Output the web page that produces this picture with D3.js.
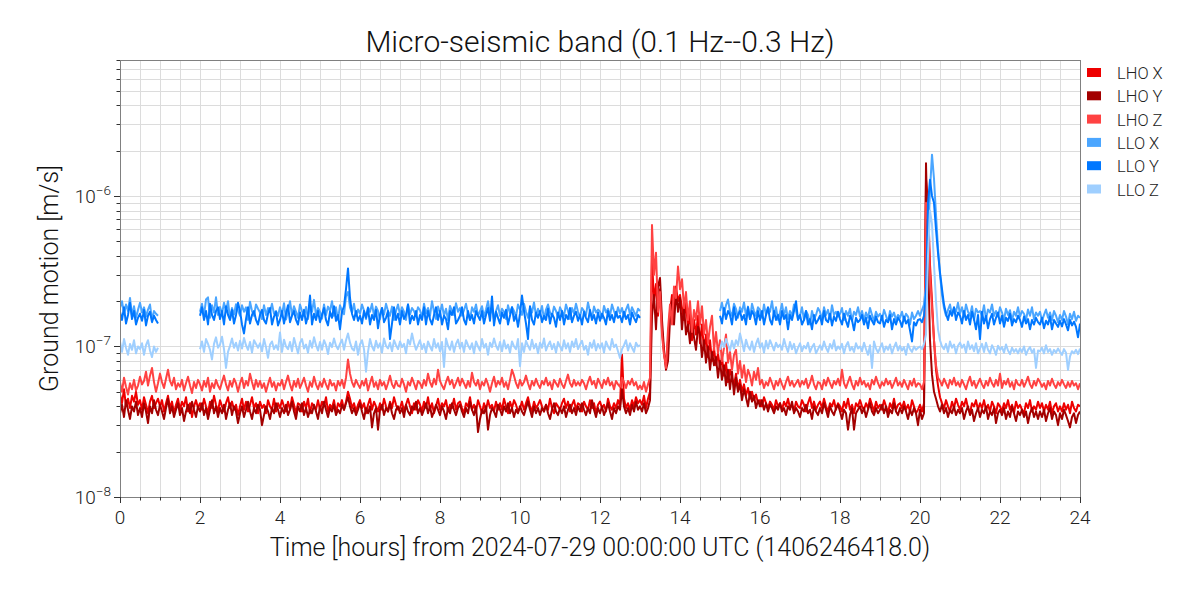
<!DOCTYPE html>
<html>
<head>
<meta charset="utf-8">
<script src="https://cdn.jsdelivr.net/npm/d3@7"></script>
<style>
  html, body { margin: 0; padding: 0; background: #fff; }
  svg { display: block; font-family: Roboto, "DejaVu Sans", sans-serif; }
</style>
</head>
<body>
<svg id="chart" width="1200" height="600"></svg>
<script>
// ---- data: values in units of 1e-9 m/s, one sample every 0.05 hours from 0 to 24 ----
const title = "Micro-seismic band (0.1 Hz--0.3 Hz)";
const xLabel = "Time [hours] from 2024-07-29 00:00:00 UTC (1406246418.0)";
const yLabel = "Ground motion [m/s]";
const seriesNames = ["LHO X", "LHO Y", "LHO Z", "LLO X", "LLO Y", "LLO Z"];
const seriesColors = ["#ee0000", "#a30000", "#ff4242", "#4ba6ff", "#0077ff", "#9fcfff"];
const xTickValues = [0, 2, 4, 6, 8, 10, 12, 14, 16, 18, 20, 22, 24];
const yTickExponents = [-8, -7, -6];
const hourStart = 0, hourStep = 0.05, unit = 1e-9;
const N = null;

const lhoX = [
48,42,52,40,45,39,47,43,50,41,
44,38,46,41,36,43,47,39,42,45,
40,44,37,42,47,39,43,36,41,45,
38,43,40,46,37,42,34,40,44,39,
42,38,45,40,36,43,39,47,41,37,
44,40,37,42,46,39,43,38,41,35,
40,45,38,43,37,41,46,39,42,36,
43,39,41,36,44,40,38,45,37,42,
39,44,40,37,43,38,46,41,36,42,
41,37,43,39,45,36,42,40,38,44,
38,43,40,46,37,41,39,44,36,42,
40,44,38,43,50,45,39,42,37,41,
44,39,42,36,41,45,38,43,40,37,
42,38,45,40,37,43,39,46,41,38,
39,43,37,41,45,40,36,42,38,44,
41,37,43,39,46,38,42,36,40,45,
38,42,40,44,37,41,39,45,38,42,
43,39,36,42,40,46,38,41,37,44,
40,36,42,38,44,39,41,37,43,38,
42,38,45,40,36,43,39,44,41,37,
39,43,38,42,46,40,37,43,39,41,
44,40,37,41,38,45,39,36,42,40,
38,42,45,39,43,37,41,44,38,42,
41,37,43,40,38,44,39,42,36,41,
43,39,41,37,45,40,38,42,39,44,
40,88,45,39,42,38,44,40,46,42,
44,41,47,39,45,50,380,200,260,160,
240,130,90,75,110,170,220,160,250,200,
220,180,150,200,130,165,110,150,120,160,
105,140,95,120,85,110,80,98,75,90,
72,85,64,78,58,70,62,55,66,52,
60,50,56,47,53,45,50,44,48,42,
44,40,46,42,39,43,41,38,44,40,
42,38,43,40,45,39,41,37,43,40,
39,44,41,37,42,46,39,43,38,41,
43,39,45,40,37,42,40,44,38,42,
40,37,43,39,45,38,41,36,42,40,
44,40,38,42,39,45,41,37,43,39,
41,38,44,40,36,42,39,45,38,41,
42,39,43,38,41,37,44,40,36,38,
41,37,42,1300,900,350,200,110,70,55,
46,42,39,44,40,37,43,39,45,41,
38,43,40,45,39,36,42,40,44,38,
42,39,44,38,41,37,43,40,36,42,
40,37,42,39,44,38,41,36,43,39,
41,38,36,42,39,44,37,40,38,43,
39,42,37,41,38,43,36,40,42,37,
40,37,42,38,41,36,43,39,37,41,
40];

const lhoY = [
36,41,34,44,38,33,40,37,43,35,
39,34,42,37,31,40,36,44,38,35,
41,37,33,39,45,36,40,34,38,42,
35,39,32,37,41,36,43,38,34,40,
37,42,35,39,33,38,44,36,40,34,
39,36,41,33,38,42,35,40,37,31,
36,40,34,38,43,37,33,39,36,41,
38,30,35,40,37,33,39,36,42,38,
34,39,36,41,35,38,43,37,33,40,
37,42,35,39,34,38,36,41,37,33,
40,36,43,38,34,39,37,41,35,38,
36,41,38,42,46,40,36,39,35,38,
42,37,33,39,36,40,29,36,39,28,
38,41,35,39,37,42,36,33,38,40,
36,39,34,41,37,35,40,38,43,36,
39,35,38,42,36,40,34,37,41,38,
35,40,37,33,39,36,42,38,35,39,
41,37,34,39,36,43,38,35,40,27,
33,38,36,40,28,35,39,37,34,41,
38,35,40,37,42,36,39,34,38,36,
40,37,35,39,43,38,34,40,36,39,
35,39,37,41,36,33,38,42,37,35,
39,36,40,34,38,41,36,39,35,40,
37,42,38,35,39,36,44,38,34,39,
36,40,35,38,42,37,33,39,36,40,
38,52,40,36,39,35,41,37,43,38,
40,37,42,36,39,44,160,220,130,250,
285,150,95,70,80,150,200,140,230,170,
210,130,185,120,140,105,150,115,95,135,
120,85,110,78,100,70,92,75,85,62,
80,60,75,55,70,52,68,48,62,50,
56,44,52,46,40,50,43,47,39,44,
40,44,38,42,37,41,39,36,40,38,
42,37,39,35,40,38,43,36,39,37,
34,39,37,41,36,38,33,40,37,35,
39,36,42,38,34,40,37,35,39,41,
37,33,38,36,28,35,39,28,36,38,
40,36,39,34,38,42,37,35,39,36,
38,41,36,40,34,38,36,42,37,35,
39,36,40,37,33,38,35,39,36,30,
38,33,36,1650,400,110,65,50,45,40,
37,41,36,39,34,38,36,40,35,38,
36,39,33,37,40,35,38,32,36,39,
34,38,36,40,33,37,35,39,31,36,
38,35,39,33,37,34,40,36,32,37,
35,38,34,37,31,36,39,34,37,33,
37,34,38,32,36,39,33,37,35,30,
36,33,38,35,32,29,34,36,31,35,
37];

const lhoZ = [
58,50,62,54,48,57,52,60,51,55,
63,56,59,68,55,64,72,58,50,57,
66,58,53,61,70,59,55,62,52,57,
54,60,51,57,63,55,49,58,53,60,
56,51,59,54,62,50,57,53,60,55,
52,58,64,56,51,59,54,61,57,50,
57,62,53,59,55,66,58,52,60,54,
59,53,57,50,56,62,54,58,51,57,
55,60,52,58,64,56,51,59,54,61,
53,57,62,55,50,58,54,63,56,52,
58,54,61,56,52,60,55,57,51,59,
55,60,53,62,82,66,58,54,60,56,
53,59,55,61,51,57,63,54,58,52,
60,55,58,52,57,64,56,53,59,55,
54,61,56,50,58,55,62,57,52,59,
57,53,60,55,66,58,54,61,56,70,
59,55,52,58,63,56,60,53,57,62,
55,61,57,53,59,54,67,58,55,60,
52,58,55,61,56,50,57,63,54,59,
56,62,54,58,52,60,70,64,57,53,
60,55,58,64,57,52,59,55,61,56,
53,59,56,62,55,58,52,60,57,54,
61,56,53,59,65,57,54,60,55,58,
55,60,57,52,58,63,56,59,53,61,
57,53,60,56,62,55,58,52,59,56,
54,62,58,53,59,56,61,55,58,52,
55,52,58,50,56,62,640,300,420,170,
230,120,88,72,130,190,140,250,210,340,
240,280,180,230,150,200,125,175,150,200,
140,185,120,150,105,135,160,95,125,90,
110,80,98,120,78,92,70,88,95,66,
80,62,75,58,70,64,55,68,60,72,
56,60,53,58,55,62,57,52,59,55,
61,56,52,58,63,55,59,54,57,60,
54,59,56,61,53,57,64,56,52,58,
57,52,60,55,62,57,53,59,56,61,
55,70,57,53,58,63,56,52,59,55,
62,56,59,54,57,52,60,56,63,57,
53,58,55,61,56,59,53,57,62,55,
58,54,60,56,52,59,55,61,54,57,
56,52,58,900,700,300,180,110,75,62,
59,55,61,57,53,60,56,62,55,58,
54,60,56,52,58,63,55,59,53,57,
61,56,53,59,55,62,57,54,60,55,
66,53,59,56,61,54,58,52,60,56,
55,60,54,58,63,56,53,59,55,61,
58,54,57,52,59,55,61,56,53,58,
55,60,56,53,58,54,59,55,57,52,
57];

const lloX = [
180,200,165,190,172,210,160,185,155,175,
195,168,182,158,176,190,150,172,165,160,
N,N,N,N,N,N,N,N,N,N,
N,N,N,N,N,N,N,N,N,N,
170,192,160,205,212,155,188,168,212,162,
183,165,195,172,200,152,180,163,191,174,
160,188,170,182,150,198,172,160,190,178,
168,152,188,162,180,170,192,165,172,160,
182,163,194,151,172,200,161,185,170,155,
190,172,160,183,152,192,170,204,162,180,
170,153,190,162,184,172,200,160,182,150,
188,172,164,215,230,182,168,192,160,176,
165,190,173,152,182,170,192,160,184,172,
152,180,163,192,172,160,184,150,172,190,
162,182,170,150,190,163,180,172,160,182,
174,155,192,166,180,160,200,170,152,184,
168,190,160,178,150,186,172,162,194,170,
180,160,174,192,165,150,182,170,190,160,
172,185,158,176,200,164,180,150,172,188,
160,178,170,152,188,166,182,172,158,190,
176,162,192,170,155,182,168,196,160,178,
165,186,152,176,190,168,160,184,172,156,
182,170,160,190,172,152,180,166,192,170,
158,180,172,162,196,170,155,184,168,176,
170,154,186,168,178,160,190,172,158,182,
166,180,158,176,190,162,182,170,160,178,
172,N,N,N,N,N,N,N,N,N,
N,N,N,N,N,N,N,N,N,N,
N,N,N,N,N,N,N,N,N,N,
N,N,N,N,N,N,N,N,N,N,
172,195,165,188,205,170,160,192,178,155,
182,170,196,160,184,152,192,172,160,182,
175,155,190,162,180,170,200,160,182,150,
168,192,160,182,152,172,160,190,172,152,
160,182,150,172,162,140,172,152,162,180,
170,150,182,162,175,152,188,162,170,158,
165,180,150,172,160,178,148,170,162,182,
158,172,150,168,155,180,162,148,170,158,
165,150,175,160,145,172,158,168,150,162,
155,170,148,165,158,140,168,152,160,172,
160,175,190,250,500,1100,1880,1300,750,450,
300,220,180,160,175,190,162,180,170,195,
165,182,158,190,170,160,185,150,178,168,
172,160,188,152,176,168,190,160,172,158,
182,168,150,178,162,174,148,170,160,182,
158,172,165,150,176,160,182,152,168,160,
170,148,162,176,155,168,150,172,160,145,
162,150,172,158,140,165,152,170,148,160,
155];

const lloY = [
170,150,182,142,162,195,152,172,140,155,
165,148,175,138,160,170,145,160,150,142,
N,N,N,N,N,N,N,N,N,N,
N,N,N,N,N,N,N,N,N,N,
160,182,150,172,140,192,162,150,172,182,
152,172,140,185,162,150,175,142,162,195,
172,140,122,152,182,142,162,172,150,140,
162,175,150,142,165,180,140,158,170,138,
150,172,142,165,188,145,160,172,150,140,
168,150,175,142,160,218,140,165,150,172,
145,162,180,150,138,170,155,185,148,162,
130,170,185,240,330,210,165,150,172,148,
160,142,172,155,180,140,162,150,175,132,
162,180,145,155,172,112,142,182,150,165,
140,172,152,162,190,142,160,150,172,140,
162,150,182,140,172,152,140,162,182,150,
172,140,160,152,130,172,162,182,142,150,
160,182,150,140,172,150,162,142,172,160,
150,172,142,162,180,148,215,138,170,155,
142,168,155,175,140,160,182,148,162,135,
165,218,172,142,112,185,150,140,168,155,
172,145,160,150,178,142,165,155,135,168,
150,172,140,162,152,180,145,160,170,148,
162,140,170,155,145,175,150,162,142,168,
148,165,155,140,172,150,162,145,170,155,
160,145,170,152,162,140,168,155,145,162,
155,N,N,N,N,N,N,N,N,N,
N,N,N,N,N,N,N,N,N,N,
N,N,N,N,N,N,N,N,N,N,
N,N,N,N,N,N,N,N,N,N,
160,142,180,152,172,162,140,182,150,162,
172,150,162,140,182,152,172,162,140,172,
150,172,140,162,182,150,140,172,150,162,
140,172,152,162,130,162,150,172,200,150,
162,140,150,172,140,152,130,162,142,150,
160,140,172,150,145,165,138,158,148,170,
152,140,165,148,135,160,150,128,155,145,
150,162,140,155,132,160,148,140,158,145,
142,160,135,150,145,162,130,152,140,155,
148,135,158,142,150,128,108,145,138,150,
152,145,160,220,900,1280,1000,900,600,420,
310,240,190,165,150,172,160,182,150,168,
160,142,172,150,162,140,170,152,130,162,
112,170,142,160,132,152,165,140,155,168,
142,160,135,155,148,165,138,152,145,160,
150,135,158,142,152,130,150,140,155,145,
140,155,132,148,140,158,130,150,142,135,
148,136,152,140,128,150,138,146,135,115,
142];

const lloZ = [
108,92,112,98,88,104,95,110,90,100,
96,105,88,102,110,94,85,100,92,98,
N,N,N,N,N,N,N,N,N,N,
N,N,N,N,N,N,N,N,N,N,
96,108,92,112,104,95,82,104,115,98,
103,116,96,72,92,101,113,98,106,94,
109,97,114,102,95,107,91,110,104,98,
105,93,112,99,84,103,108,96,102,95,
124,92,111,100,96,107,93,114,101,90,
106,112,97,103,91,109,98,115,102,94,
107,95,110,102,89,106,99,113,101,96,
104,111,95,110,122,106,97,94,108,88,
103,110,96,68,92,112,100,94,109,98,
105,91,113,101,97,106,93,110,102,96,
108,99,104,90,111,103,122,106,95,102,
110,96,104,91,108,100,94,112,98,105,
93,107,73,113,101,95,108,92,104,111,
97,106,92,110,102,96,105,90,108,100,
94,112,98,104,88,106,99,113,101,95,
107,93,110,97,103,91,108,100,96,112,
74,105,92,109,101,95,111,97,104,90,
106,98,113,94,102,108,96,104,91,107,
100,94,110,97,105,92,108,99,112,96,
103,109,95,101,88,106,98,110,94,104,
97,105,91,108,100,95,112,99,103,93,
84,96,102,110,94,105,98,92,106,100,
102,N,N,N,N,N,N,N,N,N,
N,N,N,N,N,N,N,N,N,N,
N,N,N,N,N,N,N,N,N,N,
N,N,N,N,N,N,N,N,N,N,
95,108,99,112,103,94,109,97,110,102,
122,107,93,111,100,95,108,92,104,113,
98,105,91,109,97,110,102,94,106,99,
103,95,112,100,92,107,96,104,90,98,
105,93,101,97,106,92,99,104,90,96,
102,95,108,98,92,104,97,110,94,100,
96,104,90,101,107,94,99,92,105,97,
100,93,106,96,88,102,72,108,97,91,
98,105,92,100,95,103,90,99,106,94,
101,94,99,88,104,96,92,100,95,98,
100,96,104,120,400,800,650,350,200,130,
110,100,96,104,92,108,98,103,90,101,
106,98,103,91,108,96,102,93,105,90,
97,104,92,106,95,90,102,96,88,101,
95,99,91,103,94,89,98,92,96,90,
97,92,100,88,95,99,91,96,72,94,
93,98,90,102,92,96,88,95,91,97,
92,88,96,91,70,86,93,90,95,89,
97];

const seriesValues = [lhoX, lhoY, lhoZ, lloX, lloY, lloZ];

// ---- drawing ----
const svg = d3.select("#chart");
const m = { left: 120, right: 1080, top: 60, bottom: 497 };
const x = d3.scaleLinear().domain([0, 24]).range([m.left, m.right]);
const y = d3.scaleLog().domain([1e-8, 8e-6]).range([m.bottom, m.top]);

const textColor = "#222";
const fontW = 300;

const minorX = d3.range(0, 24.001, 0.5);
const minorY = [];
for (let e = -8; e <= -6; e++) for (let k = 1; k <= 9; k++) {
  const v = k * Math.pow(10, e);
  if (v >= 1e-8 && v <= 8e-6) minorY.push(v);
}
const isDecade = v => Math.abs(Math.log10(v) - Math.round(Math.log10(v))) < 1e-9;

// grid
const grid = svg.append("g");
grid.selectAll(".gx").data(minorX).join("line")
  .attr("x1", d => Math.round(x(d)) + 0.5).attr("x2", d => Math.round(x(d)) + 0.5)
  .attr("y1", m.top).attr("y2", m.bottom)
  .attr("stroke", "#dcdcdc").attr("stroke-width", 1);
grid.selectAll(".gy").data(minorY).join("line")
  .attr("x1", m.left).attr("x2", m.right)
  .attr("y1", d => Math.round(y(d)) + 0.5).attr("y2", d => Math.round(y(d)) + 0.5)
  .attr("stroke", "#dcdcdc").attr("stroke-width", 1);

// clip
svg.append("clipPath").attr("id", "clip").append("rect")
  .attr("x", m.left).attr("y", m.top).attr("width", m.right - m.left).attr("height", m.bottom - m.top);

// lines
const line = d3.line()
  .defined(d => d != null)
  .x((d, i) => x(hourStart + i * hourStep))
  .y(d => y(d * unit));
const lines = svg.append("g").attr("clip-path", "url(#clip)");
seriesValues.forEach((vals, s) => {
  lines.append("path").datum(vals)
    .attr("d", line)
    .attr("fill", "none")
    .attr("stroke", seriesColors[s])
    .attr("stroke-width", 2)
    .attr("stroke-linejoin", "round");
});

// frame
svg.append("rect").attr("x", m.left + 0.5).attr("y", m.top + 0.5)
  .attr("width", m.right - m.left).attr("height", m.bottom - m.top)
  .attr("fill", "none").attr("stroke", "#808080").attr("stroke-width", 1);

// x axis
const xAxis = svg.append("g").attr("transform", `translate(0,${m.bottom})`);
xAxis.selectAll(".mt").data(minorX).join("line")
  .attr("x1", d => Math.round(x(d)) + 0.5).attr("x2", d => Math.round(x(d)) + 0.5)
  .attr("y1", 0).attr("y2", d => xTickValues.includes(d) ? 6 : 3.5)
  .attr("stroke", "#333");
xAxis.selectAll("text").data(xTickValues).join("text")
  .attr("x", d => x(d)).attr("y", 27)
  .attr("text-anchor", "middle")
  .attr("font-size", 19).attr("font-weight", fontW).attr("fill", textColor)
  .text(d => d);

// y axis
const yAxis = svg.append("g").attr("transform", `translate(${m.left},0)`);
yAxis.selectAll(".ymt").data(minorY).join("line")
  .attr("x1", d => isDecade(d) ? -6 : -3.5)
  .attr("x2", 0)
  .attr("y1", d => Math.round(y(d)) + 0.5).attr("y2", d => Math.round(y(d)) + 0.5)
  .attr("stroke", "#333");
const yt = yAxis.selectAll(".ylab").data(yTickExponents).join("text")
  .attr("x", -9).attr("y", d => y(Math.pow(10, d)) + 7)
  .attr("text-anchor", "end")
  .attr("font-size", 19).attr("font-weight", fontW).attr("fill", textColor);
yt.append("tspan").text("10");
yt.append("tspan").attr("dy", -8).attr("font-size", 13.5).text(d => "\u2212" + Math.abs(d));

// title and labels
svg.append("text").attr("x", 600).attr("y", 52).attr("text-anchor", "middle")
  .attr("font-size", 30).attr("font-weight", fontW).attr("fill", "#111").text(title);
svg.append("text").attr("x", 600).attr("y", 556).attr("text-anchor", "middle")
  .attr("font-size", 25).attr("font-weight", fontW).attr("fill", "#111").text(xLabel);
svg.append("text").attr("transform", `translate(58,${(m.top + m.bottom) / 2}) rotate(-90)`)
  .attr("text-anchor", "middle")
  .attr("font-size", 25).attr("font-weight", fontW).attr("fill", "#111").text(yLabel);

// legend
const legend = svg.append("g").attr("transform", "translate(1087,73)");
seriesNames.forEach((name, i) => {
  const g = legend.append("g").attr("transform", `translate(0,${i * 23.3})`);
  g.append("rect").attr("x", 0).attr("y", -5).attr("width", 14).attr("height", 9)
    .attr("fill", seriesColors[i]);
  g.append("text").attr("x", 30).attr("y", 6)
    .attr("font-size", 16.5).attr("font-weight", fontW).attr("fill", textColor).text(name);
});
</script>
</body>
</html>
